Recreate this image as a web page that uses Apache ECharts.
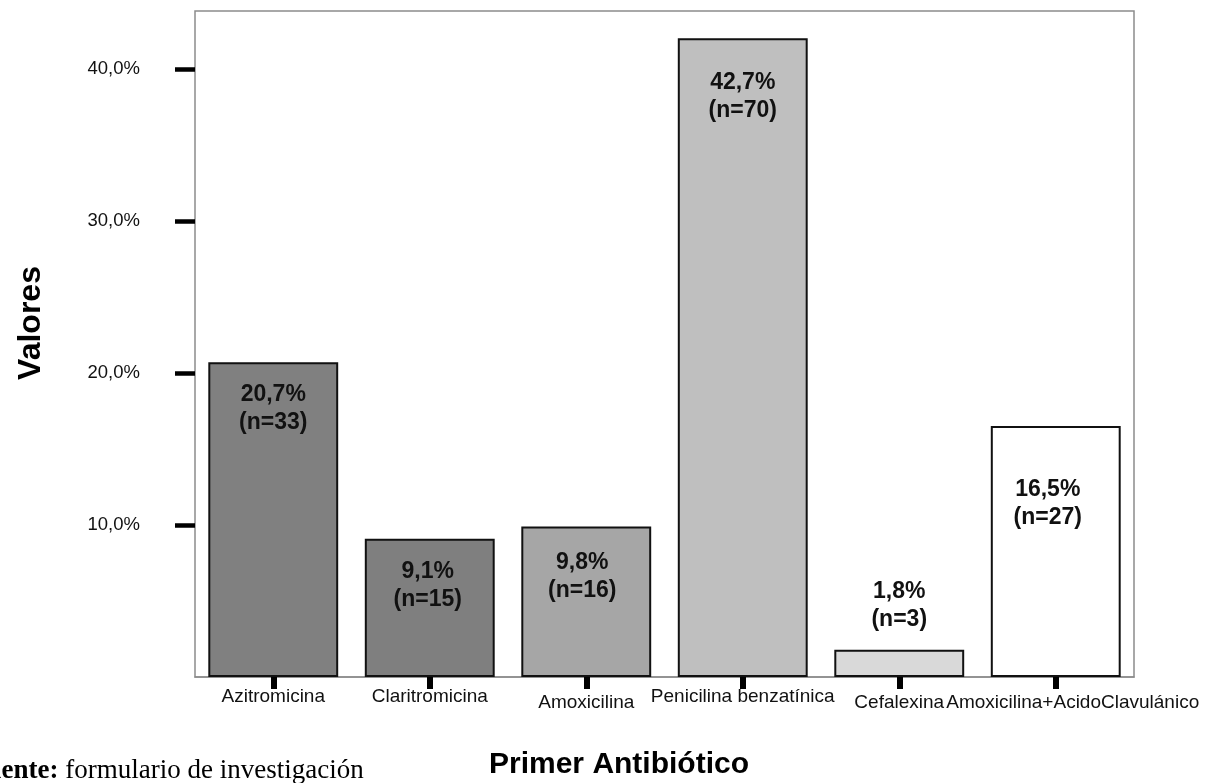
<!DOCTYPE html>
<html>
<head>
<meta charset="utf-8">
<script src="https://cdn.jsdelivr.net/npm/echarts@6/dist/echarts.min.js"></script>
<style>
html,body{margin:0;padding:0;background:#fff;}
#chart{width:1217px;height:783px;}
</style>
</head>
<body>
<div id="chart"></div>
<script>
// ---- data ----
var categories = ['Azitromicina', 'Claritromicina', 'Amoxicilina', 'Penicilina benzatínica', 'Cefalexina', 'Amoxicilina+AcidoClavulánico'];
var barValues = [20.7, 9.1, 9.9, 42.0, 1.8, 16.5];
var pctLabels = ['20,7%', '9,1%', '9,8%', '42,7%', '1,8%', '16,5%'];
var nLabels = ['(n=33)', '(n=15)', '(n=16)', '(n=70)', '(n=3)', '(n=27)'];
var yTicks = [10, 20, 30, 40];

// ---- styling (not data) ----
var barColors = ['#808080', '#7f7f7f', '#a6a6a6', '#bfbfbf', '#d9d9d9', '#ffffff'];
var labelPlace = [
  {position: 'insideTop', distance: 18, offset: [0, 0]},
  {position: 'insideTop', distance: 19, offset: [-2, 0]},
  {position: 'insideTop', distance: 22, offset: [-4, 0]},
  {position: 'insideTop', distance: 30, offset: [0, 0]},
  {position: 'top', distance: 16, offset: [0, 0]},
  {position: 'insideTop', distance: 50, offset: [-8, 0]}
];
// horizontal/vertical nudge of category labels (px, via padding)
var catLabelPad = [[0, 0, 0, 0], [0, 0, 0, 0], [6, 0, 0, 0], [0, 0, 0, 0], [6, 0, 0, 0], [6, 0, 0, 34]];

var FONT = '"Liberation Sans", Arial, sans-serif';

var seriesData = barValues.map(function (v, i) {
  return {
    value: v,
    itemStyle: {color: barColors[i]},
    label: {
      show: true,
      position: labelPlace[i].position,
      distance: labelPlace[i].distance,
      offset: labelPlace[i].offset,
      formatter: pctLabels[i] + '\n' + nLabels[i]
    }
  };
});

var catData = categories.map(function (c, i) {
  return {value: c, textStyle: {padding: catLabelPad[i]}};
});

var chart = echarts.init(document.getElementById('chart'), null, {renderer: 'canvas'});
chart.setOption({
  animation: false,
  backgroundColor: '#ffffff',
  grid: {
    left: 195, right: 83, top: 11, bottom: 106,
    show: true, borderColor: '#8c8c8c', borderWidth: 1.5, backgroundColor: '#ffffff'
  },
  xAxis: {
    type: 'category',
    data: catData,
    axisLine: {show: true, lineStyle: {color: '#8c8c8c', width: 1.5}},
    axisTick: {show: true, alignWithLabel: true, length: 12, lineStyle: {color: '#000', width: 6}},
    axisLabel: {interval: 0, margin: 10, fontFamily: FONT, fontSize: 19, color: '#111'},
    splitLine: {show: false}
  },
  yAxis: {
    type: 'value',
    min: 0, max: 43.8, interval: 10,
    axisLine: {show: false},
    axisTick: {show: true, length: 20, customValues: yTicks, lineStyle: {color: '#000', width: 4.5}},
    axisLabel: {
      customValues: yTicks,
      margin: 55, fontFamily: FONT, fontSize: 18.5, color: '#111', padding: [6, 0, 0, 0],
      formatter: function (v) { return v.toFixed(1).replace('.', ',') + '%'; }
    },
    splitLine: {show: false}
  },
  series: [{
    type: 'bar',
    data: seriesData,
    barWidth: '83%',
    itemStyle: {borderColor: '#111', borderWidth: 2},
    label: {
      fontFamily: FONT, fontWeight: 'bold', fontSize: 23, lineHeight: 28, color: '#111', align: 'center'
    }
  }],
  graphic: [
    {type: 'text', x: 31, y: 323, rotation: Math.PI / 2,
     style: {text: 'Valores', font: 'bold 32px "Liberation Sans", Arial, sans-serif', fill: '#000', align: 'center', verticalAlign: 'middle'}},
    {type: 'text', x: 619, y: 765,
     style: {text: 'Primer Antibiótico', font: 'bold 30px "Liberation Sans", Arial, sans-serif', fill: '#000', align: 'center', verticalAlign: 'middle'}},
    {type: 'text', x: -30, y: 771,
     style: {
       text: '{b|Fuente:} {r|formulario de investigación}',
       verticalAlign: 'middle', align: 'left',
       rich: {
         b: {fontFamily: '"Liberation Serif", "Times New Roman", serif', fontWeight: 'bold', fontSize: 27, fill: '#000', color: '#000'},
         r: {fontFamily: '"Liberation Serif", "Times New Roman", serif', fontSize: 27, fill: '#000', color: '#000'}
       },
       font: '27px "Liberation Serif", serif', fill: '#000'
     }}
  ]
});
</script>
</body>
</html>
